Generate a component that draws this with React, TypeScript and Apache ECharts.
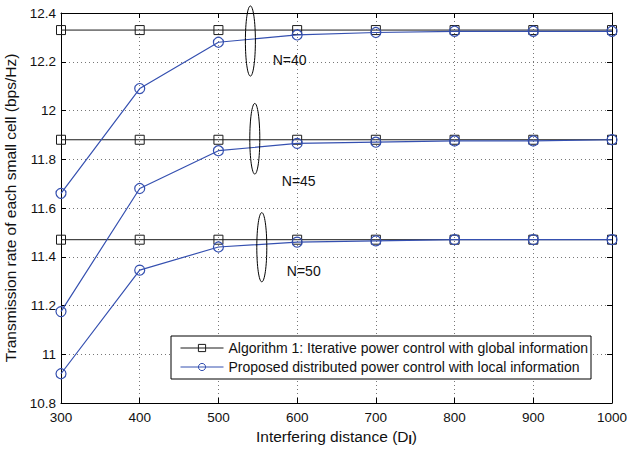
import React, { useEffect, useRef } from "react";
import * as echarts from "echarts";

const distances = [300, 400, 500, 600, 700, 800, 900, 1000];
const globalN40 = [12.33, 12.33, 12.33, 12.33, 12.33, 12.33, 12.33, 12.33];
const globalN45 = [11.88, 11.88, 11.88, 11.88, 11.88, 11.88, 11.88, 11.88];
const globalN50 = [11.47, 11.47, 11.47, 11.47, 11.47, 11.47, 11.47, 11.47];
const localN40 = [11.66, 12.09, 12.28, 12.31, 12.32, 12.325, 12.325, 12.325];
const localN45 = [11.175, 11.68, 11.835, 11.865, 11.87, 11.875, 11.875, 11.88];
const localN50 = [10.92, 11.345, 11.44, 11.46, 11.465, 11.47, 11.47, 11.47];

const nameGlobal = "Algorithm 1: Iterative power control with global information";
const nameLocal = "Proposed distributed power control with local information";

// annotation anchors in data coordinates: [x, y, halfHeight]
const ellipseAnchors = [
  [540.6, 12.285, 0.144],
  [546.2, 11.884, 0.145],
  [555.1, 11.439, 0.142],
];
const labelTexts = ["N=40", "N=45", "N=50"];
const labelAnchors = [
  [569, 12.207],
  [580.5, 11.711],
  [586.9, 11.343],
];

const FONT = "'Liberation Sans', Arial, Helvetica, sans-serif";
const BLACK = "#1a1a1a";
const BLUE = "#3550b0";

export default function App() {
  const ref = useRef<HTMLDivElement>(null);
  useEffect(() => {
    document.body.style.margin = "0";
    if (!ref.current) return;
    const chart = echarts.init(ref.current, null, { renderer: "svg" });
    const mk = (arr: number[]) => distances.map((d, i) => [d, arr[i]]);
    const globalSeries = (arr: number[]) => ({
      type: "line",
      name: nameGlobal,
      data: mk(arr),
      symbol: "rect",
      symbolSize: 9,
      lineStyle: { color: BLACK, width: 1 },
      itemStyle: { color: "none", borderColor: BLACK, borderWidth: 1 },
      z: 2,
    });
    const localSeries = (arr: number[]) => ({
      type: "line",
      name: nameLocal,
      data: mk(arr),
      symbol: "circle",
      symbolSize: 10,
      lineStyle: { color: BLUE, width: 1.2 },
      itemStyle: { color: "none", borderColor: BLUE, borderWidth: 1.2 },
      z: 3,
    });
    const axisCommon = {
      axisLine: { show: true, lineStyle: { color: "#000", width: 1 } },
      axisTick: { show: true, inside: true, length: 5, lineStyle: { color: "#000" } },
    };
    chart.setOption({
      animation: false,
      backgroundColor: "#fff",
      textStyle: { fontFamily: FONT },
      grid: { left: 61, right: 15, top: 13, bottom: 46, containLabel: false, outerBoundsMode: "none" },
      legend: {
        data: [nameGlobal, nameLocal],
        orient: "vertical",
        left: 171,
        top: 336,
        itemWidth: 43,
        itemHeight: 9,
        itemGap: 5,
        padding: [5, 3, 5, 9],
        borderColor: "#000",
        borderWidth: 1,
        backgroundColor: "#fff",
        lineStyle: { width: 1 },
        itemStyle: { borderWidth: 1 },
        textStyle: { fontFamily: FONT, fontSize: 14, color: "#111" },
      },
      xAxis: [
        {
          type: "value",
          min: 300,
          max: 1000,
          interval: 100,
          ...axisCommon,
          axisLabel: { fontSize: 13.5, color: "#111", margin: 7, fontFamily: FONT, formatter: (v: number) => String(v) },
          splitLine: { show: true, lineStyle: { color: "#777", type: [1, 3], width: 1 } },
          name: "Interfering distance (D{sub|I})",
          nameLocation: "middle",
          nameGap: 19,
          nameTextStyle: {
            fontSize: 15.5,
            color: "#111",
            fontFamily: FONT,
            rich: {
              sub: { fontSize: 12, fontWeight: "bold", color: "#111", verticalAlign: "bottom", padding: [7, 0, 0, 0], fontFamily: FONT },
            },
          },
        },
        {
          type: "value",
          position: "top",
          min: 300,
          max: 1000,
          interval: 100,
          ...axisCommon,
          axisLabel: { show: false },
          splitLine: { show: false },
        },
      ],
      yAxis: [
        {
          type: "value",
          min: 10.8,
          max: 12.4,
          interval: 0.2,
          ...axisCommon,
          axisLabel: {
            fontSize: 13.5,
            color: "#111",
            margin: 5,
            fontFamily: FONT,
            formatter: (v: number) => String(Math.round(v * 10) / 10),
          },
          splitLine: { show: true, lineStyle: { color: "#777", type: [1, 3], width: 1 } },
          name: "Transmission rate of each small cell (bps/Hz)",
          nameLocation: "middle",
          nameGap: 38,
          nameTextStyle: { fontSize: 15.5, color: "#111", fontFamily: FONT },
        },
        {
          type: "value",
          position: "right",
          min: 10.8,
          max: 12.4,
          interval: 0.2,
          ...axisCommon,
          axisLabel: { show: false },
          splitLine: { show: false },
        },
      ],
      series: [
        globalSeries(globalN40),
        globalSeries(globalN45),
        globalSeries(globalN50),
        localSeries(localN40),
        localSeries(localN45),
        localSeries(localN50),
      ],
    });

    const graphics: any[] = [];
    ellipseAnchors.forEach(([x, y, hh]) => {
      const c = chart.convertToPixel({ gridIndex: 0 }, [x, y]) as number[];
      const t = chart.convertToPixel({ gridIndex: 0 }, [x, y + hh]) as number[];
      graphics.push({
        type: "ellipse",
        shape: { cx: c[0], cy: c[1], rx: 5, ry: Math.abs(c[1] - t[1]) },
        style: { fill: "none", stroke: "#000", lineWidth: 1 },
        z: 10,
      });
    });
    labelAnchors.forEach(([x, y], i) => {
      const p = chart.convertToPixel({ gridIndex: 0 }, [x, y]) as number[];
      graphics.push({
        type: "text",
        x: p[0],
        y: p[1],
        style: {
          text: labelTexts[i],
          fontSize: 14,
          fontFamily: FONT,
          fill: "#111",
          textAlign: "left",
          textVerticalAlign: "middle",
        },
        z: 10,
      });
    });
    chart.setOption({ graphic: graphics });

    return () => chart.dispose();
  }, []);
  return <div ref={ref} style={{ width: 627, height: 449 }} />;
}
